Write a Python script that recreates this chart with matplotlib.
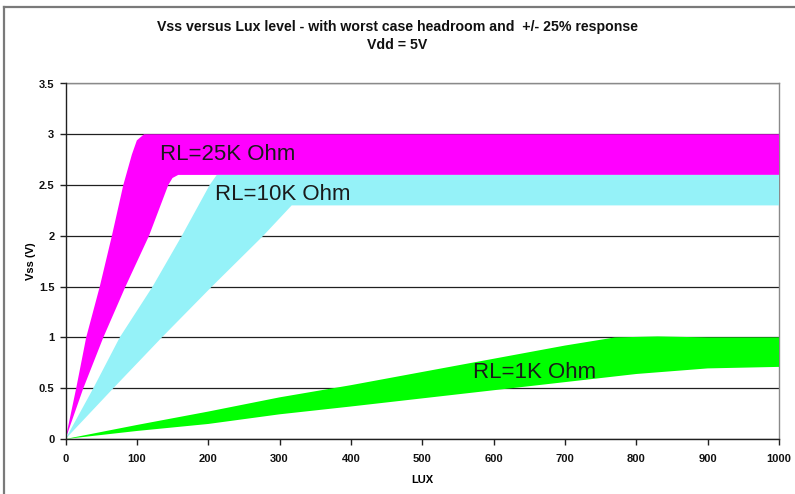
import matplotlib
matplotlib.use("Agg")
import matplotlib.pyplot as plt
from matplotlib.lines import Line2D

plt.rcParams['font.family'] = ['Liberation Sans', 'DejaVu Sans']

# ---- data ----
# RL = 25K Ohm band
m_up_x = [0, 15, 29, 48, 65, 81, 93, 100, 110, 1000]
m_up_y = [0, 0.5, 1.0, 1.5, 2.0, 2.5, 2.8, 2.94, 3.0, 3.0]
m_lo_x = [0, 25, 53, 84, 117, 144, 150, 158, 1000]
m_lo_y = [0, 0.5, 1.0, 1.5, 2.0, 2.5, 2.57, 2.6, 2.6]

# RL = 10K Ohm band
c_up_x = [0, 39, 76, 122, 163, 202, 212, 1000]
c_up_y = [0, 0.5, 1.0, 1.5, 2.0, 2.5, 2.6, 2.6]
c_lo_x = [0, 67, 135, 205, 277, 317, 1000]
c_lo_y = [0, 0.5, 1.0, 1.5, 2.0, 2.3, 2.3]

# RL = 1K Ohm band
g_up_x = [0, 100, 200, 300, 400, 500, 600, 700, 770, 830, 900, 1000]
g_up_y = [0, 0.138, 0.27, 0.41, 0.53, 0.66, 0.79, 0.92, 1.0, 1.01, 1.0, 1.0]
g_lo_x = [0, 100, 200, 300, 400, 500, 600, 700, 800, 900, 1000]
g_lo_y = [0, 0.079, 0.148, 0.243, 0.32, 0.40, 0.48, 0.56, 0.64, 0.695, 0.71]

x_ticks = [0, 100, 200, 300, 400, 500, 600, 700, 800, 900, 1000]
y_ticks = [0, 0.5, 1, 1.5, 2, 2.5, 3, 3.5]
y_tick_labels = ['0', '0.5', '1', '1.5', '2', '2.5', '3', '3.5']

title = "Vss versus Lux level - with worst case headroom and  +/- 25% response\nVdd = 5V"
xlabel = "LUX"
ylabel = "Vss (V)"
labels = ["RL=25K Ohm", "RL=10K Ohm", "RL=1K Ohm"]
label_pos = [(132, 2.8), (209, 2.41), (571, 0.65)]

# ---- figure ----
fig = plt.figure(figsize=(7.95, 4.94), dpi=100)
ax = fig.add_axes([65.5 / 795, 1 - 439 / 494, (779 - 65.5) / 795, (439 - 83.5) / 494])

def band(ax, ux, uy, lx, ly, color):
    xs = list(ux) + list(lx)[::-1]
    ys = list(uy) + list(ly)[::-1]
    ax.fill(xs, ys, color=color, lw=0, zorder=3)

band(ax, m_up_x, m_up_y, m_lo_x, m_lo_y, '#FF00FF')
band(ax, c_up_x, c_up_y, c_lo_x, c_lo_y, '#95F2F8')
band(ax, g_up_x, g_up_y, g_lo_x, g_lo_y, '#00FF00')

ax.set_xlim(0, 1000)
ax.set_ylim(0, 3.5)
ax.set_xticks(x_ticks)
ax.set_xticklabels([str(v) for v in x_ticks])
ax.set_yticks(y_ticks)
ax.set_yticklabels(y_tick_labels)
ax.yaxis.grid(True, color='#202020', lw=0.9)
ax.set_axisbelow(True)

ax.tick_params(axis='both', direction='out', length=4, width=1, colors='#202020',
               labelsize=8)
ax.tick_params(axis='x', pad=7)
ax.tick_params(axis='y', pad=4)
for lab in ax.get_xticklabels() + ax.get_yticklabels():
    lab.set_fontweight('bold')
    lab.set_color('#111111')

for s in ['left', 'bottom']:
    ax.spines[s].set_color('#202020')
    ax.spines[s].set_linewidth(1.0)
    ax.spines[s].set_zorder(5)
for s in ['top', 'right']:
    ax.spines[s].set_color('#8a8a8a')
    ax.spines[s].set_linewidth(1.0)

ax.set_xlabel(xlabel, fontsize=8, fontweight='bold', labelpad=8)
ax.set_ylabel(ylabel, fontsize=8, fontweight='bold', labelpad=2)

for txt, (tx, ty) in zip(labels, label_pos):
    ax.text(tx, ty, txt, fontsize=16, color='#1a1a1a', ha='left', va='center', zorder=6)

fig.text(0.5, 1 - 36 / 494, title, ha='center', va='center', fontsize=10.2,
         fontweight='bold', linespacing=1.45, color='#111111')

# outer chart frame
fig.add_artist(Line2D([4 / 795, 4 / 795], [-0.1, 1 - 7 / 494], transform=fig.transFigure,
                      color='#7a7a7a', lw=1.6))
fig.add_artist(Line2D([4 / 795, 1.1], [1 - 7 / 494, 1 - 7 / 494], transform=fig.transFigure,
                      color='#7a7a7a', lw=1.6))

fig.savefig('out.png', dpi=100)
